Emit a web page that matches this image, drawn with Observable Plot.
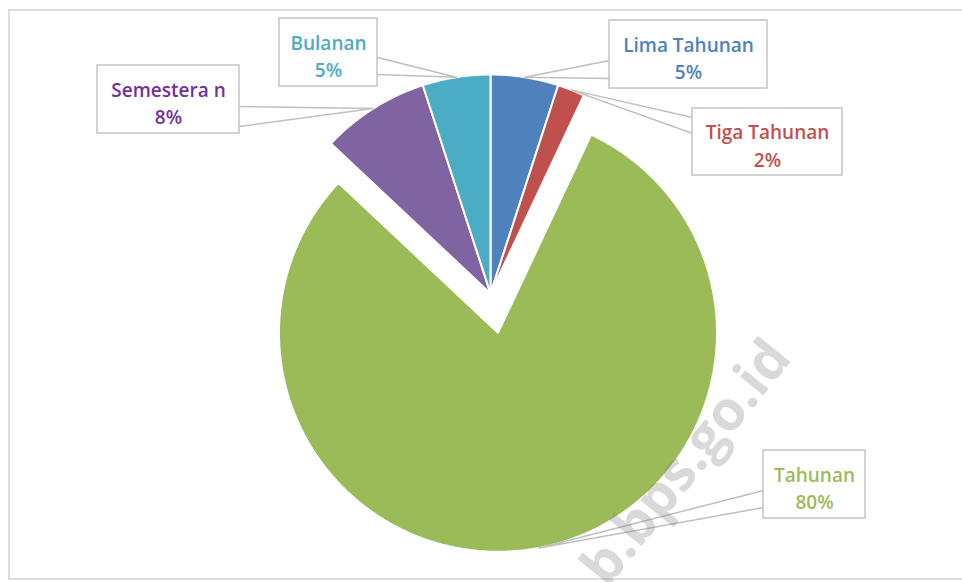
<!DOCTYPE html>
<html><head><meta charset="utf-8">
<script src="https://cdn.jsdelivr.net/npm/d3@7"></script>
<script src="https://cdn.jsdelivr.net/npm/@observablehq/plot@0.6"></script>
<style>
html,body{margin:0;padding:0;background:#fff;overflow:hidden;}
#wrap{position:relative;width:962px;height:582px;overflow:hidden;}
#border{position:absolute;left:8px;top:9px;width:1000px;height:571px;border:2px solid #dcdcdc;box-sizing:border-box;}
#chart{position:absolute;left:0;top:0;}
</style></head><body>
<div id="wrap"><div id="border"></div><div id="chart"></div></div>
<script>
// ---- data ----
const categories = ["Lima Tahunan", "Tiga Tahunan", "Tahunan", "Semesteran", "Bulanan"];
const values = [5, 2, 80, 8, 5];
const labelNames = ["Lima Tahunan", "Tiga Tahunan", "Tahunan", "Semestera n", "Bulanan"];
const sliceColors = ["#4f81bd", "#c0504d", "#9bbb59", "#8064a2", "#4bacc6"];
const textColors = ["#4f81bd", "#c0504d", "#9bbb59", "#7030a0", "#4bacc6"];
const explodedCategories = ["Tahunan"];
const watermarkText = "b.bps.go.id";

// ---- layout (pixels) ----
const W = 962, H = 582, CX = 490, CY = 293, R = 219, EXPLODE = 40;
const boxLayout = [
  {x1: 609, y1: 20,  x2: 767, y2: 88,  side: "left",  a: [40, 58]},
  {x1: 692, y1: 108, x2: 842, y2: 175, side: "left",  a: [9, 25]},
  {x1: 763, y1: 450, x2: 865, y2: 518, side: "left",  a: [40, 57]},
  {x1: 97,  y1: 65,  x2: 239, y2: 133, side: "right", a: [41, 61]},
  {x1: 279, y1: 18,  x2: 377, y2: 86,  side: "right", a: [39, 56]}
];
const watermarkPos = {px: 686, py: 462, rotate: -51, size: 55};

const ux = px => (px - CX) / R;
const uy = py => (CY - py) / R;

// ---- geometry from values ----
const total = d3.sum(values);
const slices = [];
let acc = 0;
categories.forEach((c, i) => {
  const a0 = acc / total * 2 * Math.PI;
  acc += values[i];
  const a1 = acc / total * 2 * Math.PI;
  const mid = (a0 + a1) / 2;
  const e = explodedCategories.includes(c) ? EXPLODE / R : 0;
  const ox = e * Math.sin(mid), oy = e * Math.cos(mid);
  slices.push({cat: c, a0, a1, mid, ox, oy, i});
});

const slicePts = [];
slices.forEach(s => {
  slicePts.push({cat: s.cat, x: s.ox, y: s.oy});
  const n = Math.max(2, Math.ceil((s.a1 - s.a0) / (Math.PI / 360)) + 1);
  for (let k = 0; k < n; k++) {
    const a = s.a0 + (s.a1 - s.a0) * k / (n - 1);
    slicePts.push({cat: s.cat, x: s.ox + Math.sin(a), y: s.oy + Math.cos(a)});
  }
  slicePts.push({cat: s.cat, x: s.ox, y: s.oy});
});

const boxes = slices.map(s => {
  const b = boxLayout[s.i];
  const pct = Math.round(values[s.i] / total * 100) + "%";
  return {
    cat: s.cat,
    x1: ux(b.x1), x2: ux(b.x2), y1: uy(b.y1), y2: uy(b.y2),
    cx: ux((b.x1 + b.x2) / 2), cy: uy((b.y1 + b.y2) / 2 + 2),
    label: labelNames[s.i] + "\n" + pct,
    color: textColors[s.i]
  };
});

const calloutPts = [];
slices.forEach(s => {
  const b = boxLayout[s.i];
  const ax = ux(b.side === "left" ? b.x1 : b.x2);
  const tip = {x: s.ox + Math.sin(s.mid), y: s.oy + Math.cos(s.mid)};
  calloutPts.push({cat: s.cat, x: ax, y: uy(b.y1 + b.a[0])});
  calloutPts.push({cat: s.cat, x: tip.x, y: tip.y});
  calloutPts.push({cat: s.cat, x: ax, y: uy(b.y1 + b.a[1])});
});

const chart = Plot.plot({
  width: W, height: H, margin: 0,
  x: {domain: [ux(0), ux(W)], axis: null},
  y: {domain: [uy(H), uy(0)], axis: null},
  color: {domain: categories, range: sliceColors},
  style: {background: "transparent", fontFamily: "'Open Sans', Lato, sans-serif"},
  marks: [
    Plot.line(slicePts, {x: "x", y: "y", z: "cat", fill: "cat", stroke: "white", strokeWidth: 2, strokeLinejoin: "round", curve: "linear"}),
    Plot.line(calloutPts, {x: "x", y: "y", z: "cat", stroke: "#bfbfbf", strokeWidth: 1.5}),
    Plot.rect(boxes, {x1: "x1", x2: "x2", y1: "y1", y2: "y2", fill: "white", stroke: "#c4c4c4", strokeWidth: 1.5}),
    ...boxes.map(b => Plot.text([b], {x: "cx", y: "cy", text: "label", fill: b.color, fontSize: 19, fontWeight: 600, lineHeight: 1.45})),
    Plot.text([watermarkText], {x: () => ux(watermarkPos.px), y: () => uy(watermarkPos.py), text: d => d, rotate: watermarkPos.rotate, fontSize: watermarkPos.size, fontWeight: "bold", fill: "#808080", fillOpacity: 0.3})
  ]
});
document.getElementById("chart").appendChild(chart);
</script>
</body></html>
